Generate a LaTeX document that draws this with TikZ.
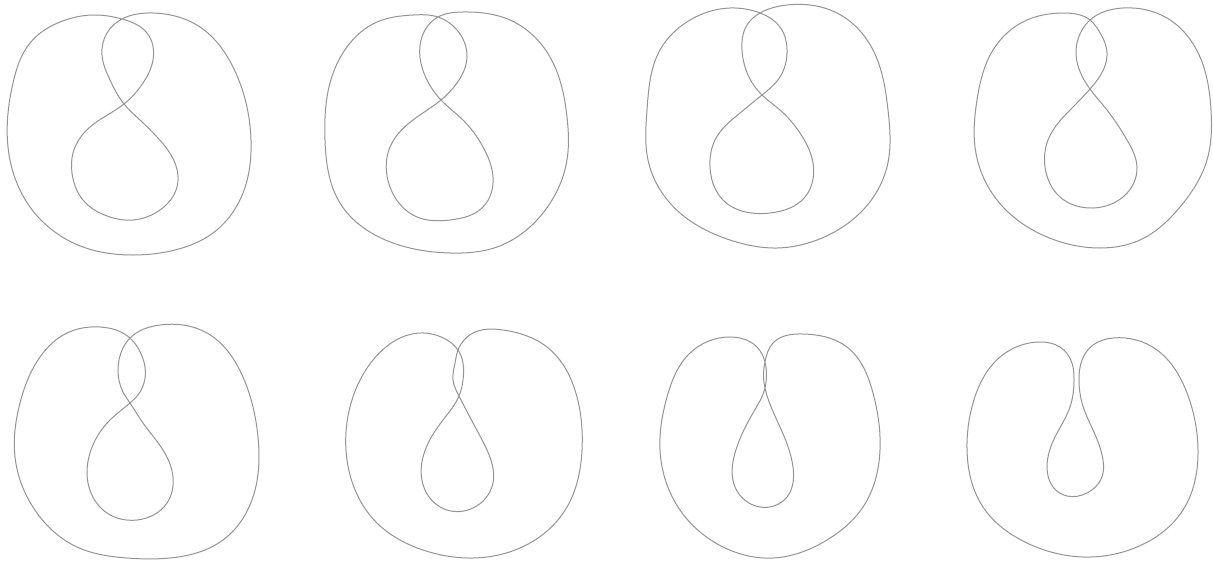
\documentclass[tikz,border=0pt]{standalone}
\usetikzlibrary{hobby}
\begin{document}
\begin{tikzpicture}[x=1pt,y=-1pt,curve/.style={draw=black!42,line width=1pt,use Hobby shortcut,closed=true}]
\useasboundingbox (0,0) rectangle (1213,560);
% curve 1
\draw[curve] (122,19) .. (153,13) .. (200,27) .. (233,67) .. (251,140) .. (243,193) .. (213,233) .. (175,250) .. (133,255) .. (83,247) .. (30,207) .. (8,147) .. (13,83) .. (30,43) .. (60,22) .. (97,15)
.. (122,19) .. (147,33) .. (153,60) .. (143,83) .. (124,104) .. (90,127) .. (73,153) .. (72,173) .. (83,200) .. (107,216) .. (133,220) .. (160,210) .. (177,187) .. (175,163) .. (157,137) .. (140,120)
.. (124,104) .. (110,80) .. (102,55) .. (107,33);
% curve 2
\draw[curve] (438,17) .. (463,12) .. (510,20) .. (550,57) .. (567,117) .. (567,160) .. (543,213) .. (497,247) .. (450,253) .. (393,243) .. (340,203) .. (325,140) .. (330,83) .. (350,43) .. (377,22) .. (413,15)
.. (438,17) .. (457,30) .. (467,57) .. (457,83) .. (441,100) .. (417,117) .. (390,147) .. (390,187) .. (417,217) .. (450,220) .. (483,207) .. (493,177) .. (483,147) .. (463,120)
.. (441,100) .. (427,80) .. (420,57) .. (425,30);
% curve 3
\draw[curve] (760,13) .. (787,5) .. (837,13) .. (873,50) .. (888,110) .. (887,167) .. (863,210) .. (817,240) .. (777,248) .. (730,240) .. (680,213) .. (648,160) .. (647,110) .. (660,50) .. (690,20) .. (730,8)
.. (760,13) .. (780,27) .. (787,53) .. (780,77) .. (762,95) .. (740,113) .. (715,140) .. (710,167) .. (723,200) .. (770,213) .. (805,197) .. (813,163) .. (800,133) .. (780,110)
.. (762,95) .. (748,75) .. (742,50) .. (747,25);
% curve 4
\draw[curve] (1090,20) .. (1123,8) .. (1167,18) .. (1200,57) .. (1211,110) .. (1207,160) .. (1180,207) .. (1140,240) .. (1100,248) .. (1047,237) .. (997,200) .. (975,147) .. (977,100) .. (993,50) .. (1027,20) .. (1063,13)
.. (1090,20) .. (1099,31) .. (1107,53) .. (1100,76) .. (1090,89) .. (1073,107) .. (1048,140) .. (1045,167) .. (1060,197) .. (1093,208) .. (1123,197) .. (1137,167) .. (1127,140) .. (1107,110)
.. (1090,89) .. (1082,76) .. (1076,53) .. (1082,30);
% curve 5
\draw[curve] (130,338) .. (160,325) .. (207,333) .. (243,377) .. (258,437) .. (253,497) .. (223,540) .. (170,558) .. (127,558) .. (77,547) .. (37,513) .. (15,457) .. (20,403) .. (40,357) .. (67,333) .. (100,327)
.. (130,338) .. (138,348) .. (145,367) .. (140,392) .. (130,403) .. (110,420) .. (90,453) .. (88,483) .. (107,513) .. (137,520) .. (167,503) .. (173,477) .. (163,450) .. (143,423)
.. (130,403) .. (123,392) .. (118,370) .. (123,348);
% curve 6
\draw[curve] (458,350) .. (473,333) .. (503,330) .. (547,347) .. (577,397) .. (582,450) .. (567,507) .. (530,543) .. (473,558) .. (423,550) .. (377,523) .. (347,460) .. (350,407) .. (373,360) .. (420,333) .. (447,340)
.. (458,350) .. (463,363) .. (463,380) .. (459,396) .. (443,420) .. (423,457) .. (425,490) .. (447,510) .. (473,508) .. (493,483) .. (487,450) .. (473,423)
.. (459,396) .. (453,380) .. (455,363);
% curve 7
\draw[curve] (765,362) .. (773,343) .. (803,334) .. (847,347) .. (873,393) .. (880,450) .. (863,507) .. (827,540) .. (773,558) .. (723,547) .. (680,510) .. (660,450) .. (667,397) .. (690,353) .. (730,337) .. (757,347)
.. (765,362) .. (766.5,375) .. (765,388) .. (753,413) .. (735,453) .. (735,487) .. (760,507) .. (787,497) .. (793,467) .. (780,427)
.. (765,388) .. (763.5,375);
% curve 8
\draw[curve] (1074,380) .. (1072,363) .. (1060,347) .. (1040,342) .. (1000,357) .. (973,403) .. (967,450) .. (983,507) .. (1027,543) .. (1083,557) .. (1137,547) .. (1183,510) .. (1198,450) .. (1187,393) .. (1157,350) .. (1113,338) .. (1093,345) .. (1082,360)
.. (1079,380) .. (1082,403) .. (1093,430) .. (1103,460) .. (1102,477) .. (1087,493) .. (1067,496) .. (1053,487) .. (1047,467) .. (1055,437) .. (1070,407);
\end{tikzpicture}
\end{document}
